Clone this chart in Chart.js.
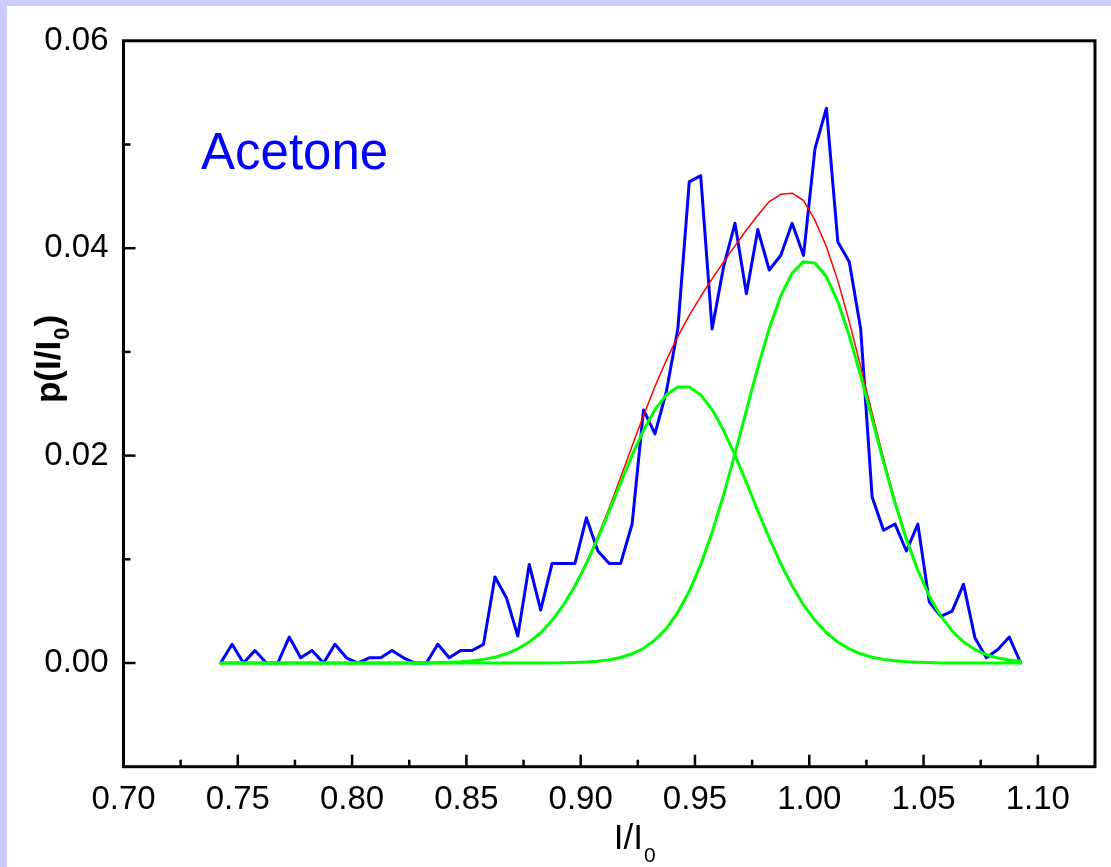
<!DOCTYPE html>
<html>
<head>
<meta charset="utf-8">
<script src="https://cdn.jsdelivr.net/npm/chart.js@4"></script>
<style>
  html, body { margin: 0; padding: 0; background: #ccccff; width: 1111px; height: 867px; overflow: hidden; }
  #wrap { position: absolute; left: 7px; top: 6px; width: 1104px; height: 861px; background: #ffffff; }
</style>
</head>
<body>
<div id="wrap"><canvas id="myChart"></canvas></div>
<script>
// x positions (I/I0)
var xValues = [
  0.7425, 0.7475, 0.7525, 0.7575, 0.7625, 0.7675, 0.7725, 0.7775, 0.7825, 0.7875,
  0.7925, 0.7975, 0.8025, 0.8075, 0.8125, 0.8175, 0.8225, 0.8275, 0.8325, 0.8375,
  0.8425, 0.8475, 0.8525, 0.8575, 0.8625, 0.8675, 0.8725, 0.8775, 0.8825, 0.8875,
  0.8925, 0.8975, 0.9025, 0.9075, 0.9125, 0.9175, 0.9225, 0.9275, 0.9325, 0.9375,
  0.9425, 0.9475, 0.9525, 0.9575, 0.9625, 0.9675, 0.9725, 0.9775, 0.9825, 0.9875,
  0.9925, 0.9975, 1.0025, 1.0075, 1.0125, 1.0175, 1.0225, 1.0275, 1.0325, 1.0375,
  1.0425, 1.0475, 1.0525, 1.0575, 1.0625, 1.0675, 1.0725, 1.0775, 1.0825, 1.0875,
  1.0925
];

// measured distribution (blue)
var measured = [
  0, 0.0018, 0, 0.0012, 0, 0, 0.0025, 0.0005, 0.0012, 0,
  0.0018, 0.0005, 0, 0.0005, 0.0005, 0.0012, 0.0005, 0, 0, 0.0018,
  0.0005, 0.0012, 0.0012, 0.0018, 0.0083, 0.0063, 0.0026, 0.0095, 0.0051, 0.0096,
  0.0096, 0.0096, 0.0140, 0.0108, 0.0096, 0.0096, 0.0134, 0.0244, 0.0221, 0.0262,
  0.0322, 0.0464, 0.0470, 0.0322, 0.0382, 0.0424, 0.0356, 0.0418, 0.0379, 0.0393,
  0.0424, 0.0393, 0.0496, 0.0535, 0.0406, 0.0387, 0.0322, 0.0160, 0.0128, 0.0134,
  0.0108, 0.0134, 0.0059, 0.0045, 0.0050, 0.0076, 0.0024, 0.0005, 0.0013, 0.0025,
  0
];

// first gaussian component (green, left)
var peak1 = [
  0, 0, 0, 0, 0, 0, 0, 0, 0, 0,
  0, 0, 0, 0, 0, 0, 0, 0, 0, 0.00004,
  0.00007, 0.00012, 0.00021, 0.00035, 0.00056, 0.00089, 0.00136, 0.00202, 0.00292, 0.00410,
  0.00560, 0.00743, 0.00959, 0.01203, 0.01467, 0.01739, 0.02004, 0.02244, 0.02444, 0.02586,
  0.02661, 0.02661, 0.02586, 0.02444, 0.02244, 0.02004, 0.01739, 0.01467, 0.01203, 0.00959,
  0.00743, 0.00560, 0.00410, 0.00292, 0.00202, 0.00136, 0.00089, 0.00056, 0.00035, 0.00021,
  0.00012, 0.00007, 0.00004, 0, 0, 0, 0, 0, 0, 0,
  0
];

// second gaussian component (green, right)
var peak2 = [
  0, 0, 0, 0, 0, 0, 0, 0, 0, 0,
  0, 0, 0, 0, 0, 0, 0, 0, 0, 0,
  0, 0, 0, 0, 0, 0, 0, 0, 0, 0,
  0.00002, 0.00005, 0.00010, 0.00018, 0.00031, 0.00053, 0.00089, 0.00142, 0.00222, 0.00334,
  0.00489, 0.00692, 0.00948, 0.01260, 0.01621, 0.02019, 0.02437, 0.02850, 0.03227, 0.03540,
  0.03760, 0.03870, 0.03858, 0.03725, 0.03483, 0.03156, 0.02769, 0.02353, 0.01937, 0.01545,
  0.01193, 0.00893, 0.00647, 0.00454, 0.00309, 0.00203, 0.00130, 0.00080, 0.00048, 0.00028,
  0.00016
];

// cumulative fit (red)
var fitSum = [
  0, 0, 0, 0, 0, 0, 0, 0, 0, 0,
  0, 0, 0, 0, 0, 0, 0, 0, 0, 0.00004,
  0.00007, 0.00012, 0.00021, 0.00035, 0.00056, 0.00089, 0.00136, 0.00202, 0.00292, 0.00410,
  0.00562, 0.00748, 0.00969, 0.01221, 0.01498, 0.01792, 0.02093, 0.02386, 0.02666, 0.02920,
  0.03150, 0.03353, 0.03534, 0.03704, 0.03865, 0.04023, 0.04176, 0.04317, 0.04450, 0.04520,
  0.04530, 0.04460, 0.04268, 0.04017, 0.03685, 0.03292, 0.02858, 0.02409, 0.01972, 0.01566,
  0.01205, 0.00900, 0.00651, 0.00454, 0.00309, 0.00203, 0.00130, 0.00080, 0.00048, 0.00028,
  0.00016
];

// axis ranges and tick steps
var xMin = 0.70, xMax = 1.125, xStep = 0.025;
var yMin = -0.01, yMax = 0.06, yStep = 0.01;

var FONT = "'Liberation Sans', Arial, Helvetica, sans-serif";

function toPoints(ys) {
  return xValues.map(function (x, i) { return { x: x, y: ys[i] }; });
}

function isMajorX(v) { return Math.round(v * 1000) % 50 === 0; }
function isMajorY(v) { return Math.round(v * 100) % 2 === 0; }
function fmt(v) { return Math.abs(v) < 1e-9 ? "0.00" : v.toFixed(2); }

// frame, inward ticks, axis titles and the "Acetone" note
var framePlugin = {
  id: "frame",
  afterDraw: function (chart) {
    var ctx = chart.ctx;
    var a = chart.chartArea;
    var xs = chart.scales.x, ys = chart.scales.y;
    ctx.save();
    ctx.strokeStyle = "#000";
    ctx.lineWidth = 2.5;
    xs.ticks.forEach(function (t) {
      if (t.value <= xMin + 1e-9 || t.value >= xMax - 1e-9) return;
      var px = xs.getPixelForValue(t.value);
      var len = isMajorX(t.value) ? 12 : 7;
      ctx.beginPath();
      ctx.moveTo(px, a.bottom);
      ctx.lineTo(px, a.bottom - len);
      ctx.stroke();
    });
    ys.ticks.forEach(function (t) {
      if (t.value <= yMin + 1e-9 || t.value >= yMax - 1e-9) return;
      var py = ys.getPixelForValue(t.value);
      var len = isMajorY(t.value) ? 12 : 7;
      ctx.beginPath();
      ctx.moveTo(a.left, py);
      ctx.lineTo(a.left + len, py);
      ctx.stroke();
    });
    ctx.lineWidth = 3;
    ctx.strokeRect(a.left, a.top, a.right - a.left, a.bottom - a.top);

    // x title: I/I0
    ctx.fillStyle = "#000";
    ctx.textBaseline = "alphabetic";
    ctx.textAlign = "left";
    ctx.font = "35px " + FONT;
    var main = "I/I";
    var w1 = ctx.measureText(main).width;
    ctx.font = "21px " + FONT;
    var w2 = ctx.measureText("0").width;
    var cx = (a.left + a.right) / 2 + 25;
    var x0 = cx - (w1 + w2) / 2;
    ctx.font = "35px " + FONT;
    ctx.fillText(main, x0, 843);
    ctx.font = "21px " + FONT;
    ctx.fillText("0", x0 + w1 + 1, 856);

    // y title: p(I/I0)
    ctx.save();
    ctx.translate(53, 354);
    ctx.rotate(-Math.PI / 2);
    ctx.font = "bold 35px " + FONT;
    var p1 = "p(I/I", p2 = ")";
    var a1 = ctx.measureText(p1).width;
    var a3 = ctx.measureText(p2).width;
    ctx.font = "bold 22px " + FONT;
    var a2 = ctx.measureText("0").width;
    var sx = -(a1 + a2 + a3) / 2;
    ctx.font = "bold 35px " + FONT;
    ctx.fillText(p1, sx, 0);
    ctx.font = "bold 22px " + FONT;
    ctx.fillText("0", sx + a1 + 1, 9);
    ctx.font = "bold 35px " + FONT;
    ctx.fillText(p2, sx + a1 + a2 + 2, 0);
    ctx.restore();

    // sample name
    ctx.fillStyle = "#0000ff";
    ctx.font = "51px " + FONT;
    ctx.fillText("Acetone", 194, 163);
    ctx.restore();
  }
};

var ctx = document.getElementById("myChart").getContext("2d");
var chart = new Chart(ctx, {
  type: "line",
  data: {
    datasets: [
      { label: "Peak 1", data: toPoints(peak1), borderColor: "#00ff00", borderWidth: 3 },
      { label: "Peak 2", data: toPoints(peak2), borderColor: "#00ff00", borderWidth: 3 },
      { label: "Fit", data: toPoints(fitSum), borderColor: "#ff0000", borderWidth: 1.5 },
      { label: "Acetone", data: toPoints(measured), borderColor: "#0000ff", borderWidth: 3 }
    ]
  },
  options: {
    responsive: true,
    maintainAspectRatio: false,
    animation: false,
    elements: {
      point: { radius: 0 },
      line: { tension: 0, fill: false, borderJoinStyle: "round", borderCapStyle: "round" }
    },
    layout: { padding: { top: 34, right: 16, bottom: 0, left: 0 } },
    plugins: { legend: { display: false }, tooltip: { enabled: false } },
    scales: {
      x: {
        type: "linear",
        min: xMin,
        max: xMax,
        grid: { display: false, drawTicks: false },
        border: { display: false },
        afterFit: function (s) { s.height = 100.3; },
        ticks: {
          stepSize: xStep,
          autoSkip: false,
          maxRotation: 0,
          padding: 13,
          color: "#000",
          font: { family: FONT, size: 33 },
          callback: function (v) { return isMajorX(v) && v < xMax - 1e-9 ? fmt(v) : ""; }
        }
      },
      y: {
        min: yMin,
        max: yMax,
        grid: { display: false, drawTicks: false },
        border: { display: false },
        afterFit: function (s) { s.width = 116.5; },
        ticks: {
          stepSize: yStep,
          autoSkip: false,
          padding: 15,
          color: "#000",
          font: { family: FONT, size: 33 },
          callback: function (v) { return isMajorY(v) && v > yMin + 1e-9 ? fmt(v) : ""; }
        }
      }
    }
  },
  plugins: [framePlugin]
});
</script>
</body>
</html>
